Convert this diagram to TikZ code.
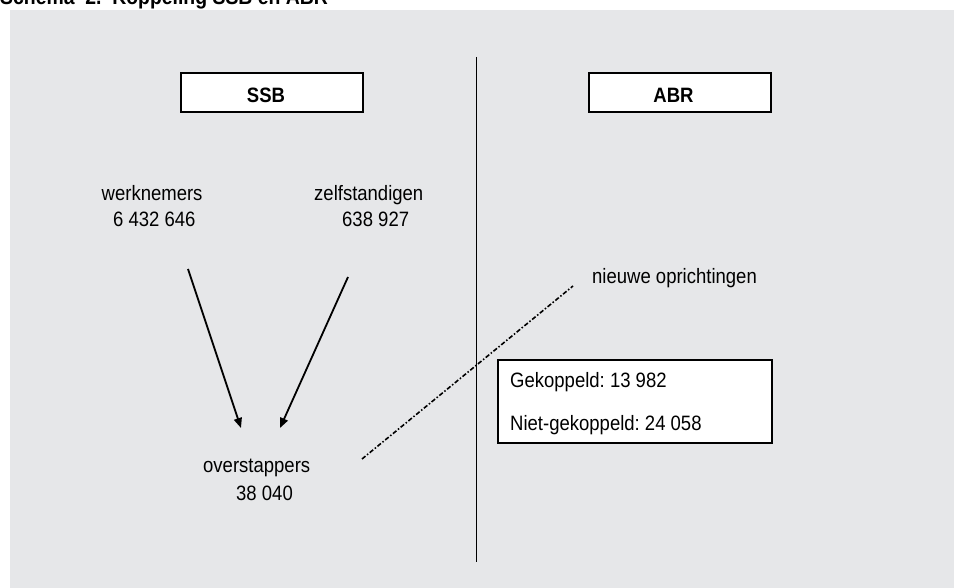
\documentclass[tikz,border=0pt]{standalone}
\usepackage{fontspec}
\setmainfont{Liberation Sans}[FakeStretch=0.89]
\usetikzlibrary{arrows.meta}
\definecolor{bggray}{HTML}{E6E7E9}
\frenchspacing
\tikzset{
  lbl/.style={inner sep=0pt, font=\fontsize{20.8}{24}\selectfont},
  hdr/.style={inner sep=0pt, font=\fontsize{20.8}{24}\selectfont\bfseries},
  ttl/.style={inner sep=0pt, font=\fontsize{21.8}{25}\selectfont\bfseries},
  boxline/.style={draw=black, line width=1.3pt, fill=white},
  arr/.style={line width=1.8pt, -{Triangle[length=10pt,width=8pt]}},
  dashdotline/.style={line width=1.6pt, dash pattern=on 4.5pt off 2pt on 1.5pt off 2pt}
}
\begin{document}
\begin{tikzpicture}[x=1pt,y=-1pt]
\useasboundingbox (0,0) rectangle (954,588);
\fill[bggray] (10,10) rectangle (954,588);
\node[ttl, anchor=base west] (title) at (0,5) {Schema\ \ 2.\ \ Koppeling SSB en ABR};
% vertical divider
\coordinate (vtop) at (476,57);
\coordinate (vbot) at (476,562);
\draw[line width=0.9pt] (vtop) -- (vbot);
% header boxes
\draw[boxline] (181,73) rectangle (363,112);
\node[hdr, anchor=base] (ssb) at (266,102.5) {SSB};
\draw[boxline] (589,73) rectangle (771,112);
\node[hdr, anchor=base] (abr) at (673.5,102.5) {ABR};
% labels
\node[lbl, anchor=base west] (wn) at (101.5,201) {werknemers};
\node[lbl, anchor=base west] (wnn) at (113,227) {6 432 646};
\node[lbl, anchor=base west] (zs) at (314,201) {zelfstandigen};
\node[lbl, anchor=base west] (zsn) at (342,227) {638 927};
\node[lbl, anchor=base west] (os) at (203,472) {overstappers};
\node[lbl, anchor=base west] (osn) at (236,500) {38 040};
\node[lbl, anchor=base west] (no) at (592,284) {nieuwe oprichtingen};
% result box
\draw[boxline] (498,360) rectangle (772,443);
\node[lbl, anchor=base west] (gk) at (510,388) {Gekoppeld: 13 982};
\node[lbl, anchor=base west] (ngk) at (510,430) {Niet-gekoppeld: 24 058};
% arrows
\coordinate (a1s) at (188,269);
\coordinate (a1e) at (241,428);
\coordinate (a2s) at (348,277);
\coordinate (a2e) at (280,428);
\draw[arr] (a1s) -- (a1e);
\draw[arr] (a2s) -- (a2e);
% dash-dot link
\coordinate (ds) at (362,459);
\coordinate (de) at (573,286);
\draw[dashdotline] (ds) -- (de);
\end{tikzpicture}
\end{document}
